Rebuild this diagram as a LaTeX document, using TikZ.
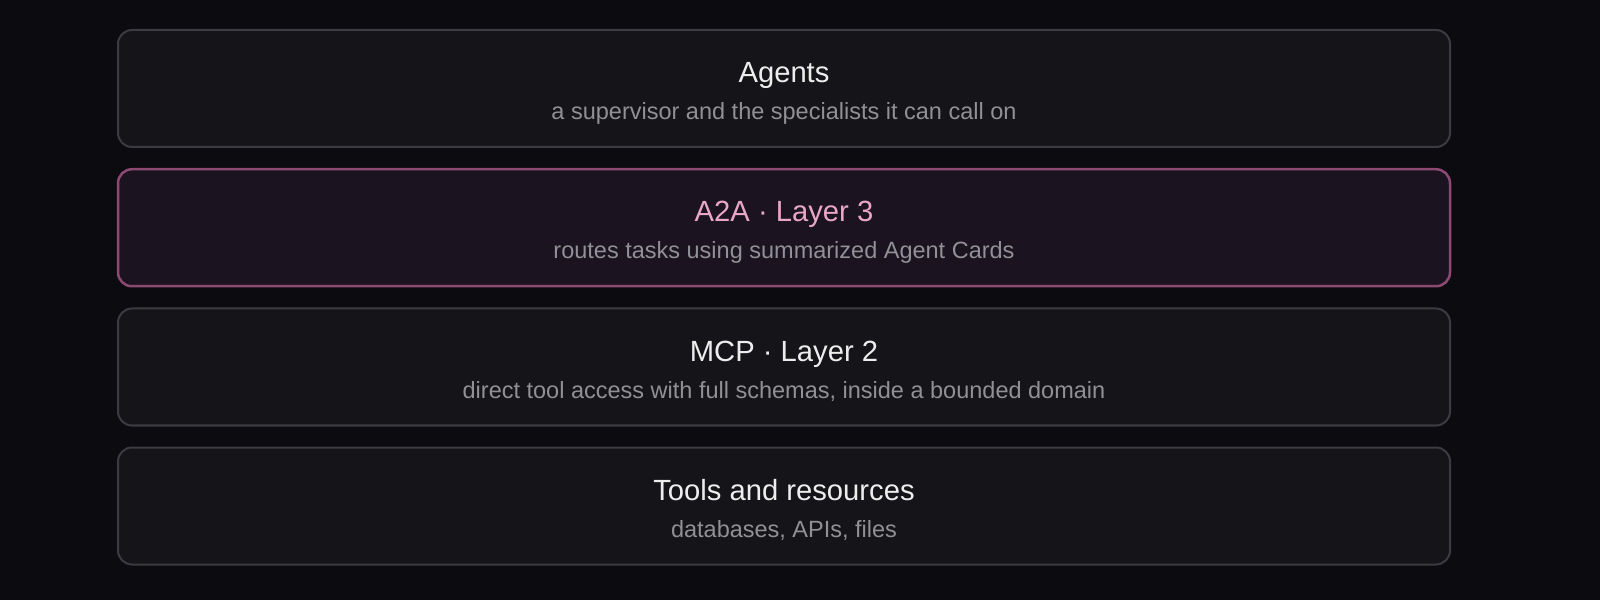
\documentclass[tikz,border=0pt]{standalone}
\usepackage{fontspec}
\setmainfont{Liberation Sans}
\usetikzlibrary{positioning}
\definecolor{bgcol}{HTML}{0B0B10}
\definecolor{boxfill}{HTML}{151519}
\definecolor{boxline}{HTML}{3B3B41}
\definecolor{hifill}{HTML}{1B1320}
\definecolor{hiline}{HTML}{8C4A73}
\definecolor{hititle}{HTML}{E9A6C9}
\definecolor{titlecol}{HTML}{EDEDED}
\definecolor{subcol}{HTML}{909095}
\tikzset{
  layer/.style={draw=boxline, fill=boxfill, line width=1pt, rounded corners=7pt,
    minimum width=666pt, minimum height=58.5pt, inner sep=0pt},
  hilayer/.style={layer, draw=hiline, fill=hifill, line width=1.25pt},
  ltitle/.style={anchor=base, text=titlecol, font=\fontsize{14.6}{17}\selectfont, inner sep=0pt},
  lsub/.style={anchor=base, text=subcol, font=\fontsize{11.75}{14}\selectfont, inner sep=0pt}
}
\begin{document}
\begin{tikzpicture}[x=1pt, y=1pt]
  \fill[bgcol] (0,0) rectangle (800,300);
  \useasboundingbox (0,0) rectangle (800,300);
  % layers, top to bottom
  \node[layer] (agents) at (392,255.75) {};
  \node[hilayer, below=10pt of agents] (a2a) {};
  \node[layer, below=10pt of a2a] (mcp) {};
  \node[layer, below=10pt of mcp] (tools) {};
  % texts
  \node[ltitle] (agentsT) at ([yshift=-27pt]agents.north) {Agents};
  \node[lsub] (agentsS) at ([yshift=-45.5pt]agents.north) {a supervisor and the specialists it can call on};
  \node[ltitle, text=hititle] (a2aT) at ([yshift=-27pt]a2a.north) {A2A · Layer 3};
  \node[lsub] (a2aS) at ([yshift=-45.5pt]a2a.north) {routes tasks using summarized Agent Cards};
  \node[ltitle] (mcpT) at ([yshift=-27pt]mcp.north) {MCP · Layer 2};
  \node[lsub] (mcpS) at ([yshift=-45.5pt]mcp.north) {direct tool access with full schemas, inside a bounded domain};
  \node[ltitle] (toolsT) at ([yshift=-27pt]tools.north) {Tools and resources};
  \node[lsub] (toolsS) at ([yshift=-45.5pt]tools.north) {databases, APIs, files};
\end{tikzpicture}
\end{document}
